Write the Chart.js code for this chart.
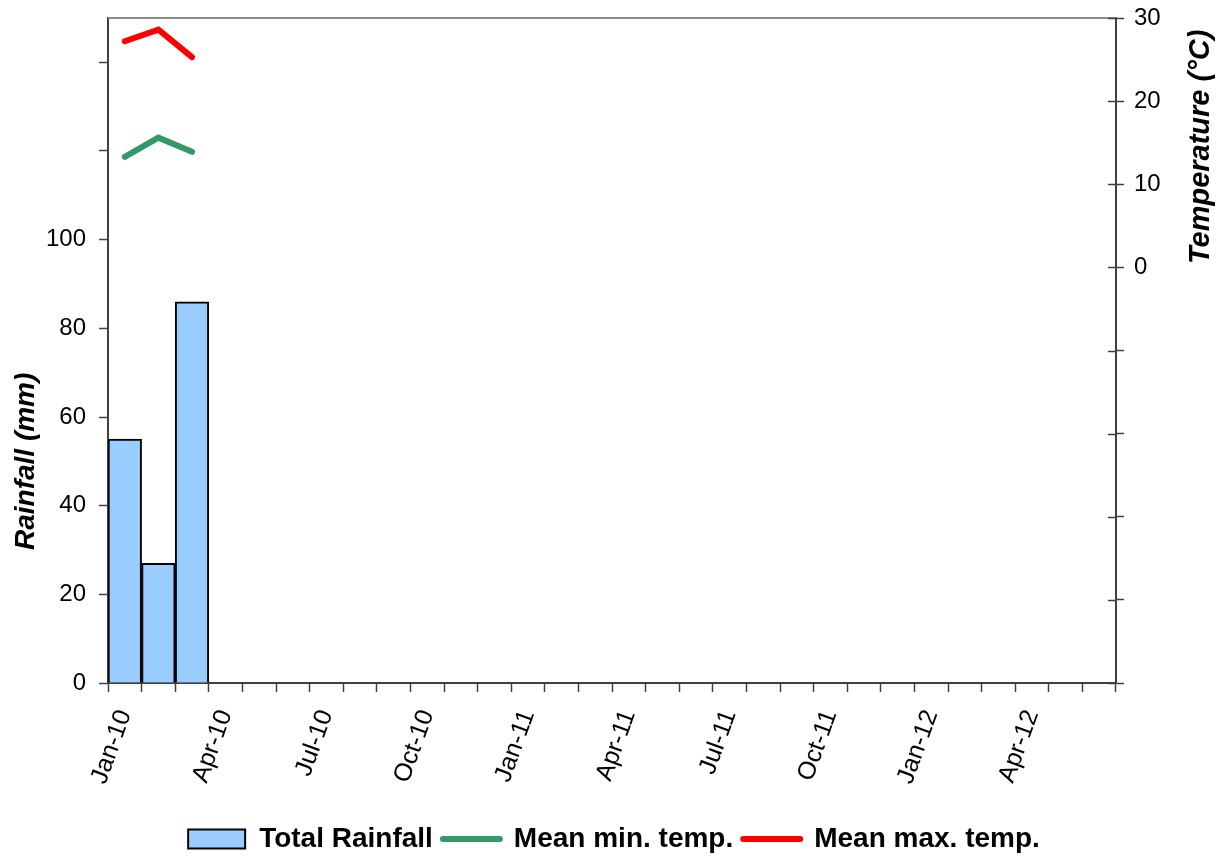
<!DOCTYPE html>
<html>
<head>
<meta charset="utf-8">
<script src="https://cdn.jsdelivr.net/npm/chart.js@4.4.0/dist/chart.umd.min.js"></script>
<style>
  html, body { margin: 0; padding: 0; background: #fff; }
</style>
</head>
<body>
<canvas id="rainChart" width="1228" height="857"></canvas>
<script>
// months on the x axis
const months = ['Jan-10','Feb-10','Mar-10','Apr-10','May-10','Jun-10','Jul-10','Aug-10','Sep-10','Oct-10','Nov-10','Dec-10',
                'Jan-11','Feb-11','Mar-11','Apr-11','May-11','Jun-11','Jul-11','Aug-11','Sep-11','Oct-11','Nov-11','Dec-11',
                'Jan-12','Feb-12','Mar-12','Apr-12','May-12','Jun-12'];
// only the first three months have data
const rainfall = [55, 27, 86];
const minTemp = [13.3, 15.6, 13.9];
const maxTemp = [27.2, 28.6, 25.3];
const rainTicks = [0, 20, 40, 60, 80, 100, 120, 140];
const tempTicks = [-50, -40, -30, -20, -10, 0, 10, 20, 30];

const FONT = '"Liberation Sans", Arial, sans-serif';
const AXIS = '#404040';
Chart.defaults.font.family = FONT;
Chart.defaults.color = '#000';

// bits Excel draws that Chart.js doesn't: top frame line, inner half of right ticks, axis titles
const extras = {
    id: 'extras',
    afterDraw(chart) {
        const { ctx, chartArea: a, scales } = chart;
        ctx.save();
        ctx.strokeStyle = '#8c8c8c';
        ctx.lineWidth = 2;
        ctx.beginPath();
        ctx.moveTo(a.left, a.top);
        ctx.lineTo(a.right, a.top);
        ctx.stroke();

        ctx.strokeStyle = AXIS;
        ctx.lineWidth = 1.5;
        scales.yT.ticks.forEach(t => {
            const y = Math.round(scales.yT.getPixelForValue(t.value)) + 0.5;
            ctx.beginPath();
            ctx.moveTo(a.right - 8, y);
            ctx.lineTo(a.right, y);
            ctx.stroke();
        });

        ctx.fillStyle = '#000';
        ctx.textAlign = 'center';
        ctx.textBaseline = 'middle';
        ctx.save();
        ctx.font = 'italic bold 28px ' + FONT;
        ctx.translate(26, scales.y.getPixelForValue(50));
        ctx.rotate(-Math.PI / 2);
        ctx.fillText('Rainfall (mm)', 0, 0);
        ctx.restore();
        ctx.save();
        ctx.font = 'italic bold 29px ' + FONT;
        ctx.translate(1201, scales.yT.getPixelForValue(14.5));
        ctx.rotate(-Math.PI / 2);
        ctx.fillText('Temperature (°C)', 0, 0);
        ctx.restore();
        ctx.restore();
    }
};

// y axes: keep Chart.js from pushing the plot top down for the "30" label
function fixY(width) {
    return function(scale) {
        scale.width = width;
        scale.paddingTop = 0;
        scale.paddingBottom = 0;
    };
}

const ctx = document.getElementById('rainChart').getContext('2d');
const chart = new Chart(ctx, {
    type: 'bar',
    data: {
        labels: months,
        datasets: [{
            label: 'Total Rainfall',
            data: rainfall,
            yAxisID: 'y',
            backgroundColor: '#99CCFF',
            borderColor: '#000',
            borderWidth: 2,
            barPercentage: 1,
            categoryPercentage: 1
        }, {
            type: 'line',
            label: 'Mean min. temp.',
            data: minTemp,
            yAxisID: 'yT',
            borderColor: '#339966',
            backgroundColor: '#339966',
            borderWidth: 6,
            borderCapStyle: 'round',
            pointRadius: 0,
            tension: 0
        }, {
            type: 'line',
            label: 'Mean max. temp.',
            data: maxTemp,
            yAxisID: 'yT',
            borderColor: '#FF0000',
            backgroundColor: '#FF0000',
            borderWidth: 6,
            borderCapStyle: 'round',
            pointRadius: 0,
            tension: 0
        }]
    },
    options: {
        responsive: false,
        animation: false,
        devicePixelRatio: 1,
        layout: { padding: { top: 18, bottom: -6, left: 0, right: 0 } },
        plugins: {
            tooltip: { enabled: false },
            legend: {
                position: 'bottom',
                labels: {
                    usePointStyle: true,
                    pointStyleWidth: 57,
                    boxHeight: 19,
                    padding: 10,
                    color: '#000',
                    font: { size: 28, weight: 'bold' },
                    generateLabels: function(chart) {
                        return chart.data.datasets.map((ds, i) => ({
                            text: ds.label,
                            fillStyle: ds.backgroundColor,
                            strokeStyle: i === 0 ? '#000' : ds.borderColor,
                            lineWidth: i === 0 ? 2 : 6,
                            lineCap: 'round',
                            pointStyle: i === 0 ? 'rect' : 'line',
                            fontColor: '#000',
                            hidden: false,
                            datasetIndex: i
                        }));
                    }
                }
            }
        },
        scales: {
            x: {
                type: 'category',
                offset: true,
                grid: { offset: true, drawOnChartArea: false, tickLength: 9, color: AXIS, tickWidth: 1.5 },
                border: { color: AXIS, width: 2 },
                ticks: {
                    autoSkip: false,
                    maxRotation: 70,
                    minRotation: 70,
                    padding: 14,
                    font: { size: 25 },
                    callback: function(value, index) {
                        return index % 3 === 0 ? months[index] : '';
                    }
                },
                afterFit: function(scale) { scale.height = 132; }
            },
            y: {
                position: 'left',
                min: 0,
                max: 150,
                grid: { drawOnChartArea: false, tickLength: 9, color: AXIS, tickWidth: 1.5 },
                border: { color: AXIS, width: 2 },
                afterBuildTicks: function(axis) { axis.ticks = rainTicks.map(v => ({ value: v })); },
                ticks: {
                    padding: 13,
                    font: { size: 24 },
                    callback: function(value) { return value <= 100 ? value : ''; }
                },
                afterFit: fixY(108)
            },
            yT: {
                position: 'right',
                min: -50,
                max: 30,
                grid: { drawOnChartArea: false, tickLength: 8, color: AXIS, tickWidth: 1.5 },
                border: { color: AXIS, width: 2 },
                afterBuildTicks: function(axis) { axis.ticks = tempTicks.map(v => ({ value: v })); },
                ticks: {
                    padding: 10,
                    font: { size: 24 },
                    callback: function(value) { return value >= 0 ? value : ''; }
                },
                afterFit: fixY(112)
            }
        }
    },
    plugins: [extras]
});
</script>
</body>
</html>
